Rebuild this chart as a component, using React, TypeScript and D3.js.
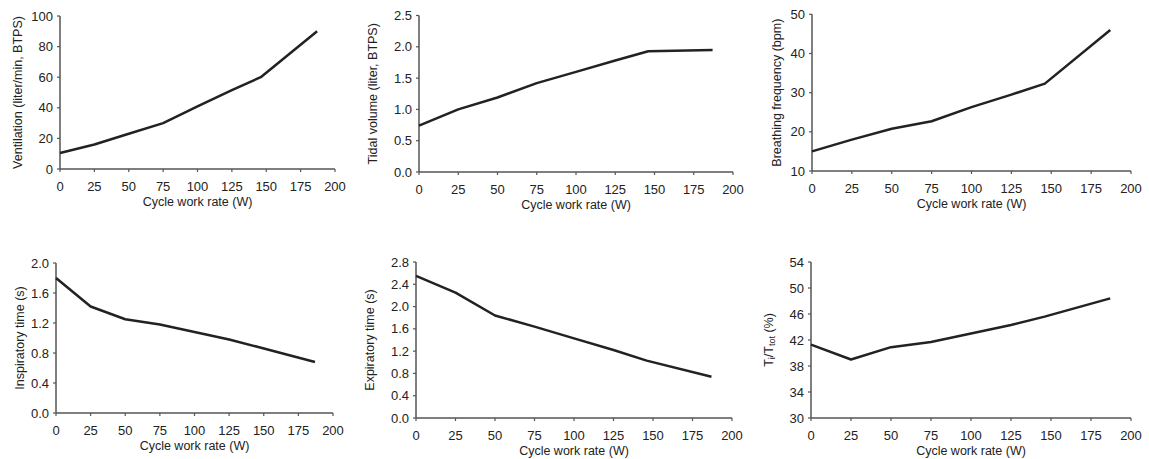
import React from "react";
import * as d3 from "d3";

const workRate = [0, 25, 50, 75, 100, 125, 146, 187];
const ventilation = [10.5, 16, 23, 30, 41, 51.5, 60, 90];
const tidalVolume = [0.74, 1.0, 1.19, 1.42, 1.6, 1.78, 1.93, 1.95];
const breathingFreq = [15, 18, 20.8, 22.7, 26.3, 29.5, 32.3, 46];
const inspTime = [1.8, 1.42, 1.25, 1.18, 1.08, 0.98, 0.88, 0.68];
const expTime = [2.55, 2.25, 1.84, 1.64, 1.43, 1.22, 1.03, 0.74];
const tiTtot = [41.3, 39.0, 40.9, 41.7, 43.0, 44.3, 45.6, 48.4];

const xTicks = [0, 25, 50, 75, 100, 125, 150, 175, 200];
const xTitle = "Cycle work rate (W)";

type Panel = {
  values: number[];
  yDomain: [number, number];
  yTicks: number[];
  fmt: string;
  label: React.ReactNode;
  xr: [number, number];
  yr: [number, number];
  labelX: number;
};

const panels: Panel[] = [
  { values: ventilation, yDomain: [0, 100], yTicks: [0, 20, 40, 60, 80, 100], fmt: "d", label: "Ventilation (liter/min, BTPS)", xr: [60, 335], yr: [169, 16], labelX: 18 },
  { values: tidalVolume, yDomain: [0, 2.5], yTicks: [0, 0.5, 1, 1.5, 2, 2.5], fmt: ".1f", label: "Tidal volume (liter, BTPS)", xr: [419, 733], yr: [172, 15.5], labelX: 373 },
  { values: breathingFreq, yDomain: [10, 50], yTicks: [10, 20, 30, 40, 50], fmt: "d", label: "Breathing frequency (bpm)", xr: [812, 1131], yr: [171, 14.3], labelX: 777 },
  { values: inspTime, yDomain: [0, 2], yTicks: [0, 0.4, 0.8, 1.2, 1.6, 2.0], fmt: ".1f", label: "Inspiratory time (s)", xr: [56, 333], yr: [413, 263], labelX: 20 },
  { values: expTime, yDomain: [0, 2.8], yTicks: [0, 0.4, 0.8, 1.2, 1.6, 2.0, 2.4, 2.8], fmt: ".1f", label: "Expiratory time (s)", xr: [416, 732], yr: [418, 262], labelX: 370 },
  {
    values: tiTtot, yDomain: [30, 54], yTicks: [30, 34, 38, 42, 46, 50, 54], fmt: "d",
    label: (
      <>
        <tspan>T</tspan>
        <tspan baselineShift="-25%" fontSize="9">i</tspan>
        <tspan>/T</tspan>
        <tspan baselineShift="-25%" fontSize="9">tot</tspan>
        <tspan> (%)</tspan>
      </>
    ),
    xr: [811, 1131], yr: [418, 262], labelX: 769,
  },
];

const axisColor = "#555";
const textColor = "#222";
const font = "Liberation Sans, Arial, sans-serif";

function PanelView({ p }: { p: Panel }) {
  const x = d3.scaleLinear().domain([0, 200]).range(p.xr);
  const y = d3.scaleLinear().domain(p.yDomain).range(p.yr);
  const f = d3.format(p.fmt);
  const line = d3.line<number>().x((_, i) => x(workRate[i])).y((v) => y(v));
  const y0 = p.yr[0];
  const x0 = p.xr[0];
  const yMid = (p.yr[0] + p.yr[1]) / 2;
  return (
    <g>
      <line x1={x0} x2={p.xr[1]} y1={y0} y2={y0} stroke={axisColor} strokeWidth={1.5} />
      <line x1={x0} x2={x0} y1={y0} y2={p.yr[1]} stroke={axisColor} strokeWidth={1.5} />
      {xTicks.map((t) => (
        <g key={"x" + t}>
          <line x1={x(t)} x2={x(t)} y1={y0} y2={y0 + 3} stroke={axisColor} strokeWidth={1.2} />
          <text x={x(t)} y={y0 + 22} textAnchor="middle" fontSize={13} fill={textColor}>{t}</text>
        </g>
      ))}
      {p.yTicks.map((t) => (
        <g key={"y" + t}>
          <line x1={x0 - 3} x2={x0} y1={y(t)} y2={y(t)} stroke={axisColor} strokeWidth={1.2} />
          <text x={x0 - 7} y={y(t) + 4.5} textAnchor="end" fontSize={13} fill={textColor}>{f(t)}</text>
        </g>
      ))}
      <text x={(p.xr[0] + p.xr[1]) / 2} y={y0 + 37} textAnchor="middle" fontSize={12.5} fill={textColor}>{xTitle}</text>
      <text transform={`translate(${p.labelX},${yMid}) rotate(-90)`} textAnchor="middle" dy="0.35em" fontSize={12.5} fill={textColor}>{p.label}</text>
      <path d={line(p.values) || ""} fill="none" stroke="#222" strokeWidth={2.5} strokeLinejoin="round" />
    </g>
  );
}

export default function App() {
  return (
    <svg width={1149} height={459} style={{ position: "absolute", left: 0, top: 0, background: "#fff" }} fontFamily={font}>
      <rect width={1149} height={459} fill="#fff" />
      {panels.map((p, i) => (
        <PanelView key={i} p={p} />
      ))}
    </svg>
  );
}
